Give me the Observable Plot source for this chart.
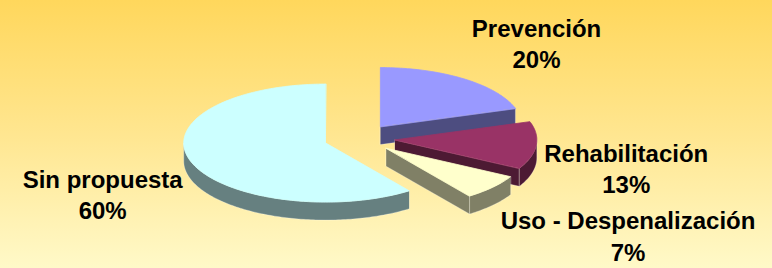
<!DOCTYPE html>
<html>
<head>
<meta charset="utf-8">
<script src="https://cdn.jsdelivr.net/npm/d3@7"></script>
<script src="https://cdn.jsdelivr.net/npm/@observablehq/plot@0.6"></script>
<style>
  html, body { margin: 0; padding: 0; background: #FFF0B0; }
  #chart { width: 772px; height: 268px; }
</style>
</head>
<body>
<div id="chart"></div>
<script>
// ---- data ----
const categories = ["Prevención", "Rehabilitación", "Uso - Despenalización", "Sin propuesta"];
const percents = [20, 13, 7, 60];
const topColors = ["#9999FF", "#993366", "#FFFFCC", "#CCFFFF"];
const sideColors = ["#4D4D80", "#4D1A33", "#808066", "#668080"];

// ---- layout ----
const W = 772, H = 268;
const cx = 359, cy = 138, rx = 142, ry = 59, depthPx = 18, explode = 0.25;
const depth = depthPx / ry;
const TAU = 2 * Math.PI;
const total = d3.sum(percents);
const edge = "rgba(255,255,255,0.35)";
const fontFamily = "'Liberation Sans', Arial, sans-serif";
const fontSize = 24;

let acc = 0;
const slices = categories.map((name, i) => {
  const a0 = acc / total * TAU;
  acc += percents[i];
  const a1 = acc / total * TAU;
  const m = (a0 + a1) / 2;
  return {name, value: percents[i], a0, a1, m,
    ox: explode * Math.sin(m), oy: explode * Math.cos(m),
    top: topColors[i], side: sideColors[i]};
});

const rows = [];
let k = 0;
function poly(pts, fill, stroke) {
  const key = k++;
  for (const [x, y] of pts) rows.push({key, x, y, fill, stroke});
}
function arc(s, from, to, dy = 0) {
  const n = Math.max(2, Math.ceil((to - from) / (Math.PI / 180)));
  return d3.range(n + 1).map(j => {
    const t = from + (to - from) * j / n;
    return [s.ox + Math.sin(t), s.oy + Math.cos(t) - dy];
  });
}

for (const s of slices) {
  const faces = [[s.a0, Math.sin(s.a0) < -1e-9], [s.a1, Math.sin(s.a1) > 1e-9]];
  for (const [a, vis] of faces) if (vis) {
    const p = [s.ox + Math.sin(a), s.oy + Math.cos(a)];
    poly([[s.ox, s.oy], p, [p[0], p[1] - depth], [s.ox, s.oy - depth]], s.side, edge);
  }
  const f = Math.max(s.a0, Math.PI / 2), t = Math.min(s.a1, 1.5 * Math.PI);
  if (t > f) poly([...arc(s, f, t), ...arc(s, f, t, depth).reverse()], s.side, edge);
  poly([[s.ox, s.oy], ...arc(s, s.a0, s.a1)], s.top, s.top);
}

// text measurement to center each label block beside its slice
const ctx = document.createElement("canvas").getContext("2d");
ctx.font = `bold ${fontSize}px ${fontFamily}`;
const measure = str => d3.max(str.split("\n"), l => ctx.measureText(l).width);

const labels = slices.map(s => {
  const sx = Math.sin(s.m), cyv = Math.cos(s.m);
  const text = `${s.name}\n${s.value}%`;
  const w = measure(text);
  let y = s.oy + cyv;
  if (cyv < 0) y -= depth;
  const side = sx >= 0 ? 1 : -1;
  return {text, x: s.ox + sx + side * (8 + w / 2) / rx, y: y + (45 / ry) * cyv};
});

const chart = Plot.plot({
  width: W, height: H,
  margin: 0,
  x: {domain: [-1, 1], range: [cx - rx, cx + rx], axis: null},
  y: {domain: [-1, 1], range: [cy + ry, cy - ry], axis: null},
  color: {type: "identity"},
  style: {background: "linear-gradient(#FFD75C 0%, #FFE690 50%, #FFF9C8 100%)", overflow: "visible"},
  marks: [
    Plot.line(rows, {x: "x", y: "y", z: "key", fill: "fill", stroke: "stroke", strokeWidth: 0.8, curve: "linear-closed"}),
    Plot.text(labels, {x: "x", y: "y", text: "text", textAnchor: "middle",
      fontFamily, fontWeight: "bold", fontSize, lineHeight: 1.3, fill: "black"})
  ]
});
document.getElementById("chart").appendChild(chart);
</script>
</body>
</html>
